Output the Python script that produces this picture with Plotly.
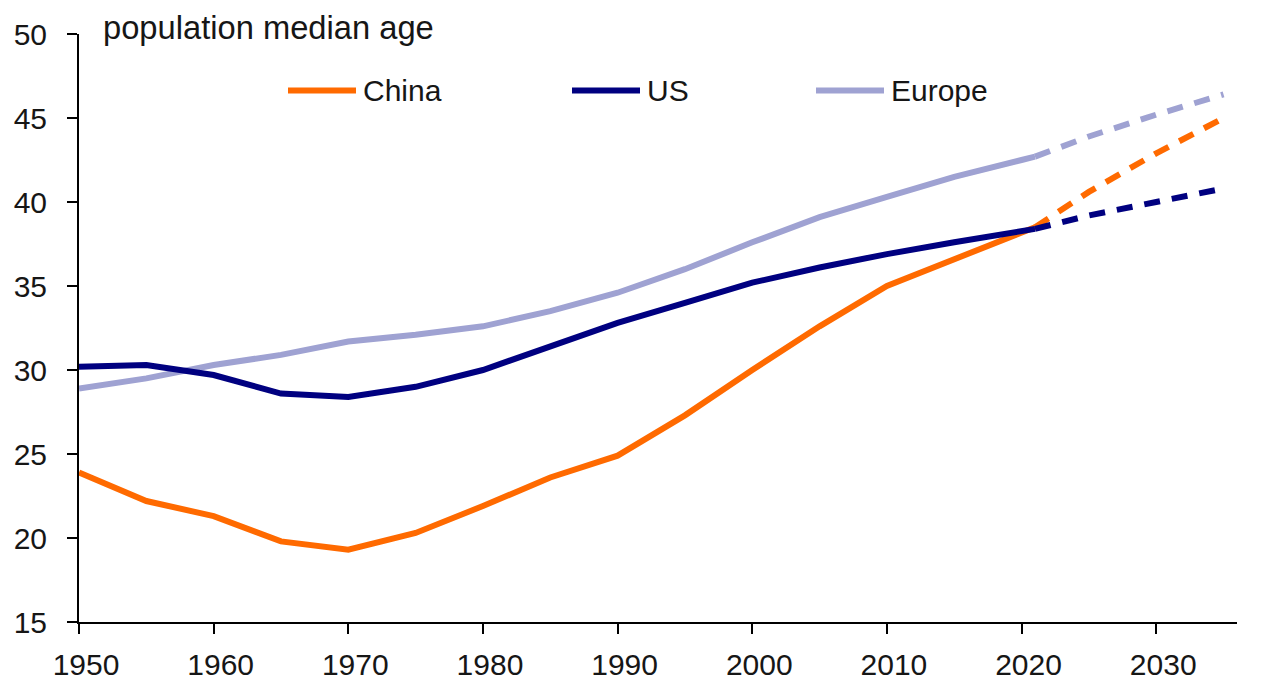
import plotly.graph_objects as go

# ---- data ----
years_hist = [1950, 1955, 1960, 1965, 1970, 1975, 1980, 1985, 1990, 1995,
              2000, 2005, 2010, 2015, 2020, 2021]
china_hist = [23.9, 22.2, 21.3, 19.8, 19.3, 20.3, 21.9, 23.6, 24.9, 27.3,
              30.0, 32.6, 35.0, 36.6, 38.2, 38.5]
us_hist = [30.2, 30.3, 29.7, 28.6, 28.4, 29.0, 30.0, 31.4, 32.8, 34.0,
           35.2, 36.1, 36.9, 37.6, 38.3, 38.4]
europe_hist = [28.9, 29.5, 30.3, 30.9, 31.7, 32.1, 32.6, 33.5, 34.6, 36.0,
               37.6, 39.1, 40.3, 41.5, 42.5, 42.7]

years_proj = [2021, 2025, 2030, 2035]
china_proj = [38.5, 40.6, 42.9, 45.0]
us_proj = [38.4, 39.2, 40.0, 40.8]
europe_proj = [42.7, 43.9, 45.2, 46.4]

series_names = ["China", "US", "Europe"]
colors = {"China": "#FF6A00", "US": "#000080", "Europe": "#9FA2D2"}

x_ticks = [1950, 1960, 1970, 1980, 1990, 2000, 2010, 2020, 2030]
y_ticks = [15, 20, 25, 30, 35, 40, 45, 50]
title_text = "population median age"

FONT = "Liberation Sans, Arial, Helvetica, sans-serif"
TXT = "#161616"

fig = go.Figure()

hist = {"China": china_hist, "US": us_hist, "Europe": europe_hist}
proj = {"China": china_proj, "US": us_proj, "Europe": europe_proj}

for name in ["Europe", "China", "US"]:
    fig.add_trace(go.Scatter(x=years_hist, y=hist[name], mode="lines",
                             line=dict(color=colors[name], width=6),
                             showlegend=False, name=name))
    fig.add_trace(go.Scatter(x=years_proj, y=proj[name], mode="lines",
                             line=dict(color=colors[name], width=6, dash="16px,12px"),
                             showlegend=False, name=name + " (projection)"))

# page body has an 8px margin -> figure is 8px smaller, all coords shifted
OFF = 8
W, H = 1280 - OFF, 690 - OFF
plot_l, plot_r = 79 - OFF, 1237 - OFF
plot_t, plot_b = 33.5 - OFF, 622 - OFF
pw = plot_r - plot_l
ph = plot_b - plot_t

# custom legend (line sample + label), positioned relative to the plot area
legend_pos = {"China": 288, "US": 572, "Europe": 816}
leg_y = (622 - 90) / (622 - 33.5)
for name in series_names:
    x0 = (legend_pos[name] - 79) / pw
    x1 = (legend_pos[name] + 68 - 79) / pw
    fig.add_shape(type="line", xref="paper", yref="paper", x0=x0, x1=x1,
                  y0=leg_y, y1=leg_y, line=dict(color=colors[name], width=6))
    fig.add_annotation(xref="paper", yref="paper",
                       x=(legend_pos[name] + 73 - 79) / pw,
                       y=leg_y, text=name, showarrow=False,
                       xanchor="left", yanchor="middle",
                       font=dict(family=FONT, size=30, color=TXT))

fig.add_annotation(xref="paper", yref="paper", x=(101 - 79) / pw, y=1.0,
                   text=title_text, showarrow=False, xanchor="left",
                   yanchor="middle", yshift=7,
                   font=dict(family=FONT, size=32.7, color=TXT))

fig.update_layout(
    width=W, height=H,
    margin=dict(l=plot_l, r=W - plot_r, t=plot_t, b=H - plot_b, autoexpand=False),
    paper_bgcolor="white", plot_bgcolor="white",
    font=dict(family=FONT, size=30, color=TXT),
)
fig.update_xaxes(range=[1950, 2036], tickvals=x_ticks, showline=True,
                 linecolor="black", linewidth=2, ticks="outside", ticklen=10,
                 tickwidth=2, tickcolor="black", showgrid=False, zeroline=False,
                 automargin=False, ticklabelshift=7, ticklabelstandoff=5,
                 tickfont=dict(family=FONT, size=30, color=TXT))
fig.update_yaxes(range=[15, 50], tickvals=y_ticks, showline=True,
                 linecolor="black", linewidth=2, ticks="outside", ticklen=10,
                 tickwidth=2, tickcolor="black", showgrid=False, zeroline=False,
                 automargin=False, ticklabelstandoff=14,
                 tickfont=dict(family=FONT, size=30, color=TXT))

fig.write_html("out.html")
